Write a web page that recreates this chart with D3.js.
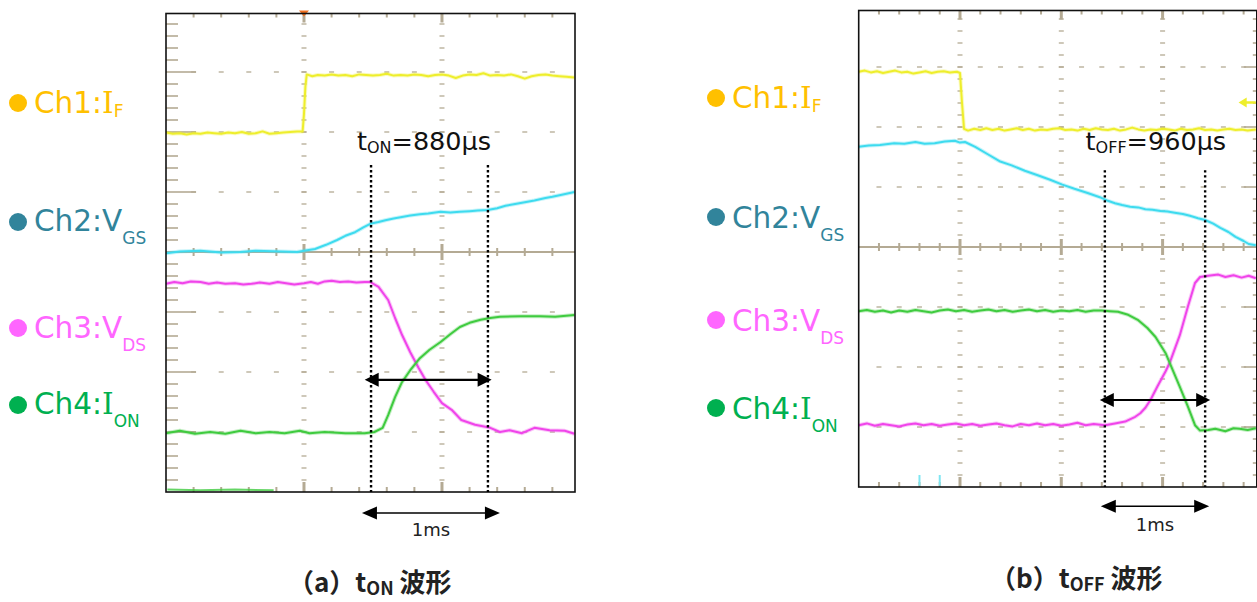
<!DOCTYPE html>
<html>
<head>
<meta charset="utf-8">
<script src="https://cdn.jsdelivr.net/npm/d3@7"></script>
<style>
  body { margin: 0; background: #fff; }
  svg { display: block; }
</style>
</head>
<body>
<svg id="chart" width="1257" height="602"></svg>
<script>
// ---- channel legend ----
const chNames  = ["Ch1:", "Ch2:", "Ch3:", "Ch4:"]
const chSyms   = ["I", "V", "V", "I"]
const chSubs   = ["F", "GS", "DS", "ON"]
const chColors = ["#ffc000", "#31849b", "#ff66ff", "#00b050"]
const traceColors = ["#eeee2c", "#3edbef", "#f044ea", "#3fcb3f"]

// ---- (a) turn-on traces: [time ms, divisions] ----
const ifOn = [[0.00,1.99],[0.05,1.97],[0.10,1.98],[0.15,1.96],[0.20,1.98],[0.25,1.97],[0.30,1.99],[0.35,1.98],[0.40,1.97],[0.45,1.99],[0.50,1.98],[0.55,2.00],[0.60,1.97],[0.65,1.98],[0.70,2.01],[0.75,1.97],[0.80,1.98],[0.85,1.99],[0.90,2.00],[0.95,2.01],[0.99,2.01],
  [1.00,2.30],[1.01,2.75],[1.02,2.96],[1.06,2.93],[1.10,2.95],[1.15,2.94],[1.20,2.96],[1.25,2.94],[1.30,2.95],[1.35,2.93],[1.40,2.96],[1.45,2.95],[1.50,2.94],[1.55,2.95],[1.60,2.97],[1.65,2.94],[1.70,2.95],[1.75,2.94],[1.80,2.96],[1.85,2.95],[1.90,2.93],[1.95,2.95],[2.00,2.96],[2.05,2.94],[2.10,2.90],[2.15,2.94],[2.20,2.96],[2.25,2.95],[2.30,2.98],[2.35,2.94],[2.40,2.95],[2.45,2.94],[2.50,2.96],[2.55,2.93],[2.60,2.89],[2.65,2.93],[2.70,2.95],[2.75,2.96],[2.80,2.94],[2.85,2.93],[2.90,2.92],[2.96,2.91]]
const vgsOn = [[0.00,-0.02],[0.10,0.01],[0.25,0.02],[0.40,-0.01],[0.54,0.00],[0.65,0.02],[0.83,0.01],[0.95,0.00],[1.00,0.02],[1.08,0.05],[1.16,0.12],[1.24,0.20],[1.30,0.27],[1.37,0.33],[1.43,0.41],[1.48,0.47],[1.54,0.50],[1.59,0.53],[1.65,0.56],[1.70,0.58],[1.77,0.61],[1.84,0.63],[1.90,0.64],[1.99,0.67],[2.06,0.66],[2.13,0.67],[2.20,0.68],[2.26,0.69],[2.33,0.70],[2.40,0.73],[2.46,0.77],[2.53,0.80],[2.60,0.83],[2.67,0.86],[2.75,0.90],[2.80,0.92],[2.86,0.95],[2.96,1.00]]
const vdsOn = [[0.00,-0.53],[0.06,-0.50],[0.12,-0.52],[0.18,-0.49],[0.25,-0.50],[0.31,-0.53],[0.37,-0.51],[0.43,-0.53],[0.50,-0.52],[0.56,-0.54],[0.62,-0.53],[0.68,-0.51],[0.75,-0.53],[0.81,-0.50],[0.87,-0.52],[0.93,-0.54],[1.00,-0.52],[1.05,-0.50],[1.10,-0.53],[1.15,-0.49],[1.20,-0.48],[1.26,-0.50],[1.32,-0.49],[1.38,-0.51],[1.44,-0.50],[1.48,-0.50],
  [1.54,-0.58],[1.61,-0.80],[1.66,-1.10],[1.71,-1.38],[1.77,-1.67],[1.83,-1.93],[1.88,-2.13],[1.94,-2.33],[2.00,-2.52],[2.07,-2.63],[2.14,-2.80],[2.24,-2.88],[2.35,-2.93],[2.42,-3.00],[2.49,-2.97],[2.58,-3.02],[2.67,-2.93],[2.78,-2.97],[2.89,-2.98],[2.96,-3.03]]
const ionOn = [[0.00,-3.02],[0.10,-2.98],[0.21,-3.03],[0.32,-3.00],[0.43,-3.03],[0.54,-2.98],[0.65,-3.02],[0.75,-3.00],[0.86,-3.02],[0.97,-2.98],[1.04,-3.02],[1.15,-3.00],[1.30,-3.02],[1.44,-3.02],[1.51,-3.00],
  [1.57,-2.93],[1.61,-2.72],[1.66,-2.42],[1.71,-2.17],[1.77,-1.97],[1.84,-1.77],[1.91,-1.63],[1.99,-1.50],[2.06,-1.37],[2.13,-1.25],[2.20,-1.18],[2.28,-1.13],[2.35,-1.10],[2.42,-1.08],[2.57,-1.07],[2.71,-1.07],[2.82,-1.08],[2.96,-1.05]]
const ionOnStub = [[0.01,-3.96],[0.25,-3.97],[0.50,-3.96],[0.78,-3.97]]

// ---- (b) turn-off traces ----
const ifOff = [[0.00,2.92],[0.06,2.94],[0.12,2.91],[0.18,2.93],[0.24,2.90],[0.30,2.92],[0.36,2.94],[0.42,2.91],[0.48,2.92],[0.54,2.89],[0.60,2.91],[0.66,2.93],[0.72,2.90],[0.78,2.92],[0.84,2.93],[0.90,2.91],[0.97,2.92],[1.00,2.90],
  [1.02,2.40],[1.04,1.97],[1.08,1.94],[1.14,1.97],[1.20,1.95],[1.26,1.98],[1.32,1.95],[1.38,1.97],[1.44,1.94],[1.50,1.96],[1.56,1.98],[1.62,1.95],[1.68,1.97],[1.74,1.94],[1.80,1.96],[1.86,1.95],[1.92,1.97],[1.98,1.98],[2.04,1.95],[2.10,1.96],[2.16,1.94],[2.22,1.97],[2.28,1.95],[2.34,1.98],[2.40,1.96],[2.46,1.95],[2.52,1.97],[2.58,1.94],[2.64,1.96],[2.70,1.99],[2.76,1.96],[2.82,1.94],[2.88,1.96],[2.94,1.95],[3.00,1.97],[3.06,1.96],[3.12,1.94],[3.18,1.97],[3.24,1.95],[3.30,1.96],[3.36,1.98],[3.42,1.95],[3.48,1.96],[3.54,1.94],[3.60,1.96],[3.66,1.97],[3.72,1.95],[3.78,1.96],[3.84,1.94],[3.92,1.96]]
const vgsOff = [[0.00,1.67],[0.10,1.69],[0.21,1.70],[0.35,1.73],[0.45,1.72],[0.56,1.75],[0.65,1.72],[0.75,1.73],[0.85,1.76],[0.95,1.77],[1.00,1.74],[1.05,1.75],[1.15,1.67],[1.27,1.55],[1.39,1.43],[1.51,1.36],[1.64,1.27],[1.76,1.20],[1.89,1.12],[2.01,1.04],[2.13,0.97],[2.26,0.90],[2.38,0.83],[2.46,0.77],[2.53,0.73],[2.60,0.70],[2.68,0.67],[2.76,0.66],[2.83,0.63],[2.90,0.62],[2.98,0.60],[3.05,0.59],[3.12,0.57],[3.20,0.55],[3.27,0.52],[3.35,0.48],[3.42,0.45],[3.50,0.39],[3.57,0.32],[3.65,0.25],[3.72,0.17],[3.80,0.10],[3.85,0.05],[3.92,0.03]]
const vdsOff = [[0.00,-2.97],[0.08,-2.94],[0.16,-2.98],[0.24,-2.95],[0.32,-2.97],[0.40,-2.99],[0.48,-2.96],[0.56,-2.94],[0.64,-2.97],[0.72,-2.95],[0.80,-2.98],[0.88,-2.96],[0.96,-2.94],[1.04,-2.97],[1.12,-2.95],[1.20,-2.98],[1.28,-2.96],[1.36,-2.94],[1.44,-2.97],[1.52,-2.99],[1.60,-2.95],[1.68,-2.97],[1.76,-2.94],[1.84,-2.97],[1.92,-2.95],[2.00,-2.98],[2.08,-2.96],[2.16,-2.93],[2.24,-2.97],[2.32,-2.95],[2.43,-2.97],
  [2.53,-2.94],[2.63,-2.91],[2.73,-2.83],[2.78,-2.77],[2.83,-2.68],[2.88,-2.55],[2.95,-2.32],[3.03,-2.07],[3.07,-1.93],[3.17,-1.47],[3.25,-0.99],[3.32,-0.60],[3.37,-0.50],[3.45,-0.48],[3.55,-0.46],[3.62,-0.50],[3.70,-0.47],[3.78,-0.51],[3.85,-0.48],[3.92,-0.52]]
const ionOff = [[0.00,-1.07],[0.08,-1.05],[0.16,-1.08],[0.24,-1.06],[0.32,-1.09],[0.40,-1.06],[0.48,-1.08],[0.56,-1.05],[0.64,-1.07],[0.72,-1.09],[0.80,-1.06],[0.88,-1.04],[0.96,-1.07],[1.04,-1.05],[1.12,-1.08],[1.20,-1.06],[1.28,-1.04],[1.36,-1.07],[1.44,-1.05],[1.52,-1.08],[1.60,-1.06],[1.68,-1.04],[1.76,-1.07],[1.84,-1.05],[1.92,-1.08],[2.00,-1.06],[2.08,-1.07],[2.16,-1.05],[2.24,-1.08],[2.32,-1.06],[2.40,-1.06],[2.48,-1.07],
  [2.56,-1.08],[2.66,-1.13],[2.76,-1.22],[2.85,-1.35],[2.93,-1.50],[3.03,-1.77],[3.07,-1.93],[3.17,-2.33],[3.25,-2.66],[3.32,-2.97],[3.37,-3.06],[3.45,-3.05],[3.52,-3.03],[3.62,-3.07],[3.70,-3.02],[3.76,-3.03],[3.84,-3.05],[3.92,-3.02]]

// ---- annotations ----
const onCursors = [1.486, 2.333]
const offCursors = [2.43, 3.42]
const onArrow = [1.44, 2.36]
const offArrow = [2.38, 3.47]
const onScaleBar = [1.42, 2.42]
const offScaleBar = [2.39, 3.46]
const timeLabels = ["880μs", "960μs"]
const timeSubs = ["ON", "OFF"]
const captions = ["a", "b"]

const svg = d3.select("#chart")
svg.append("rect").attr("width", 1257).attr("height", 602).attr("fill", "#fff")

const panels = [
  { id: "on", tMax: 2.964, px: [166, 575], py: [12, 492], frameTop: 13.5, edge: "left",
    traces: [ifOn, vgsOn, vdsOn, ionOn], cursors: onCursors, cursorTop: 1.45, arrow: onArrow, arrowV: -2.13,
    bar: onScaleBar, barV: -4.35, barTextV: -4.74, tLabel: [1.384, 1.70],
    legendX: 18, legendDots: [103, 222, 328, 405], legendBase: [113, 231, 338, 414], order: [0, 1, 2, 3],
    captionX: 288, captionY: 592 },
  { id: "off", tMax: 3.93, px: [858.7, 1256.8], py: [7, 487], frameTop: 10.5, edge: "right",
    traces: [ifOff, vgsOff, vdsOff, ionOff], cursors: offCursors, cursorTop: 1.28, arrow: offArrow, arrowV: -2.55,
    bar: offScaleBar, barV: -4.32, barTextV: -4.73, tLabel: [2.24, 1.62],
    legendX: 716, legendDots: [98, 217, 408, 320], legendBase: [108, 228, 419, 331], order: [0, 1, 3, 2],
    captionX: 990, captionY: 588 }
]

const gridColor = "#b4aa94"

panels.forEach((p, pi) => {
  const x = d3.scaleLinear().domain([0, p.tMax]).range(p.px)
  const y = d3.scaleLinear().domain([4, -4]).range(p.py)
  const g = svg.append("g")
  const fx0 = p.px[0], fx1 = p.px[1], fy0 = p.frameTop, fy1 = p.py[1]
  const isMajor = d => Math.abs(d - Math.round(d)) < 0.01

  const minorT = d3.range(0.2, p.tMax - 0.05, 0.2)
  const minorV = d3.range(-3.8, 3.85, 0.2).filter(v => y(v) > fy0 + 3)
  const majorT = d3.range(1, p.tMax, 1)
  const majorV = [-3, -2, -1, 1, 2, 3]

  // dotted major rows
  majorV.forEach(v => {
    g.selectAll(null).data(minorT).enter().append("rect")
      .attr("x", d => x(d) - 2.5).attr("y", y(v) - 0.8)
      .attr("width", 5).attr("height", 1.6).attr("fill", gridColor).attr("opacity", 0.8)
  })
  // dotted major columns
  majorT.forEach(t => {
    g.selectAll(null).data(minorV).enter().append("rect")
      .attr("x", x(t) - 2.5).attr("y", d => y(d) - 0.8)
      .attr("width", 5).attr("height", 1.6).attr("fill", gridColor).attr("opacity", 0.8)
  })
  // centre axis
  g.append("line").attr("x1", fx0).attr("x2", fx1).attr("y1", y(0)).attr("y2", y(0))
    .attr("stroke", gridColor).attr("stroke-width", 2)
  g.selectAll(null).data(minorT).enter().append("line")
    .attr("x1", d => x(d)).attr("x2", d => x(d))
    .attr("y1", d => y(0) - (isMajor(d) ? 8 : 4))
    .attr("y2", d => y(0) + (isMajor(d) ? 8 : 4))
    .attr("stroke", gridColor).attr("stroke-width", d => isMajor(d) ? 3 : 2)
  // top / bottom edge ticks
  g.selectAll(null).data(minorT).enter().append("line")
    .attr("x1", d => x(d)).attr("x2", d => x(d))
    .attr("y1", fy0).attr("y2", d => fy0 + (isMajor(d) ? 9 : 4))
    .attr("stroke", gridColor).attr("stroke-width", d => isMajor(d) ? 3 : 2)
  g.selectAll(null).data(minorT).enter().append("line")
    .attr("x1", d => x(d)).attr("x2", d => x(d))
    .attr("y1", fy1).attr("y2", d => fy1 - (isMajor(d) ? 10 : 5))
    .attr("stroke", gridColor).attr("stroke-width", d => isMajor(d) ? 3 : 2)
  // side edge ticks
  const sx = p.edge === "left" ? fx0 : fx1
  const dir = p.edge === "left" ? 1 : -1
  g.selectAll(null).data(minorV.filter(v => Math.abs(v) > 0.01)).enter().append("line")
    .attr("x1", sx).attr("x2", d => sx + dir * (isMajor(d) ? (p.edge === "left" ? 30 : 13) : (p.edge === "left" ? 12 : 4)))
    .attr("y1", d => y(d)).attr("y2", d => y(d))
    .attr("stroke", gridColor).attr("stroke-width", 1.6)

  // traces
  const clipId = "clip-" + p.id
  svg.append("clipPath").attr("id", clipId).append("rect")
    .attr("x", fx0).attr("y", fy0).attr("width", fx1 - fx0).attr("height", fy1 - fy0)
  const tg = svg.append("g").attr("clip-path", `url(#${clipId})`)
  const line = d3.line().x(d => x(d[0])).y(d => y(d[1]))

  if (p.id === "on") {
    tg.append("path").attr("d", line(ionOnStub)).attr("fill", "none")
      .attr("stroke", traceColors[3]).attr("stroke-width", 2).attr("opacity", 0.8)
  } else {
    // yellow level marker on the right edge
    tg.append("path")
      .attr("d", `M${x(3.92)},${y(2.41)}L${x(3.82)},${y(2.41)}`)
      .attr("stroke", traceColors[0]).attr("stroke-width", 2.5)
    tg.append("path")
      .attr("d", `M${x(3.75)},${y(2.41)}L${x(3.83)},${y(2.41) - 5}L${x(3.83)},${y(2.41) + 5}Z`)
      .attr("fill", traceColors[0])
    // small cyan readout marks at the bottom
    ;[0.6, 0.8].forEach(t => {
      tg.append("line").attr("x1", x(t)).attr("x2", x(t)).attr("y1", y(-3.8)).attr("y2", y(-3.98))
        .attr("stroke", "#7fe6f2").attr("stroke-width", 2)
    })
  }

  p.traces.forEach((data, i) => {
    tg.append("path").attr("d", line(data)).attr("fill", "none")
      .attr("stroke", traceColors[i]).attr("stroke-width", 4).attr("opacity", 0.3)
      .attr("stroke-linejoin", "round")
    tg.append("path").attr("d", line(data)).attr("fill", "none")
      .attr("stroke", traceColors[i]).attr("stroke-width", 2)
      .attr("stroke-linejoin", "round")
  })

  if (p.id === "on") {
    svg.append("path").attr("d", `M${x(1) - 5},${fy0 - 3}L${x(1) + 5},${fy0 - 3}L${x(1)},${fy0 + 3}Z`)
      .attr("fill", "#f07020")
  }

  // frame
  svg.append("rect").attr("x", fx0).attr("y", fy0).attr("width", fx1 - fx0).attr("height", fy1 - fy0)
    .attr("fill", "none").attr("stroke", "#111").attr("stroke-width", 1.6)

  // cursors
  svg.selectAll(null).data(p.cursors).enter().append("line")
    .attr("x1", d => x(d)).attr("x2", d => x(d))
    .attr("y1", y(p.cursorTop)).attr("y2", fy1)
    .attr("stroke", "#000").attr("stroke-width", 2.4).attr("stroke-dasharray", "2.4 2.6")

  // double arrows
  const dblArrow = (t0, t1, yy, head, w, sw) => {
    const a = x(t0), b = x(t1)
    svg.append("line").attr("x1", a + head - 1).attr("x2", b - head + 1).attr("y1", yy).attr("y2", yy)
      .attr("stroke", "#000").attr("stroke-width", sw)
    svg.append("path").attr("d", `M${a},${yy}L${a + head},${yy - w / 2}L${a + head},${yy + w / 2}Z`).attr("fill", "#000")
    svg.append("path").attr("d", `M${b},${yy}L${b - head},${yy - w / 2}L${b - head},${yy + w / 2}Z`).attr("fill", "#000")
  }
  dblArrow(p.arrow[0], p.arrow[1], y(p.arrowV), 14, 14, 2.2)
  dblArrow(p.bar[0], p.bar[1], y(p.barV), 15, 13, 1.5)

  svg.append("text").attr("x", x((p.bar[0] + p.bar[1]) / 2)).attr("y", y(p.barTextV))
    .attr("text-anchor", "middle").attr("font-family", "DejaVu Sans").attr("font-size", 18)
    .attr("fill", "#222").text("1ms")

  // t_ON / t_OFF label
  const tl = svg.append("text").attr("x", x(p.tLabel[0])).attr("y", y(p.tLabel[1]))
    .attr("font-family", "DejaVu Sans").attr("font-size", 25.5).attr("fill", "#111")
  tl.append("tspan").text("t")
  tl.append("tspan").attr("font-size", 16).attr("dy", 3).text(timeSubs[pi])
  tl.append("tspan").attr("dy", -3).text("=" + timeLabels[pi])

  // channel legend
  p.order.forEach((ci, k) => {
    svg.append("circle").attr("cx", p.legendX).attr("cy", p.legendDots[k]).attr("r", 9).attr("fill", chColors[ci])
    const t = svg.append("text").attr("x", p.legendX + 16).attr("y", p.legendBase[k])
      .attr("font-family", "DejaVu Sans").attr("font-size", 29.5).attr("fill", chColors[ci])
    t.append("tspan").text(chNames[ci])
    t.append("tspan").attr("font-family", chSyms[ci] === "I" ? "DejaVu Serif" : null).text(chSyms[ci])
    t.append("tspan").attr("font-size", 17).attr("dy", ci === 0 ? 4 : 13).text(chSubs[ci])
  })

  // caption
  const cap = svg.append("text").attr("x", p.captionX).attr("y", p.captionY)
    .attr("font-family", "Noto Sans CJK JP").attr("font-weight", "bold").attr("font-size", 26).attr("fill", "#222")
  cap.append("tspan").text("（" + captions[pi] + "）t")
  cap.append("tspan").attr("font-size", 18).attr("dy", 3).text(timeSubs[pi])
  cap.append("tspan").attr("dy", -3).text(" 波形")
})
</script>
</body>
</html>
